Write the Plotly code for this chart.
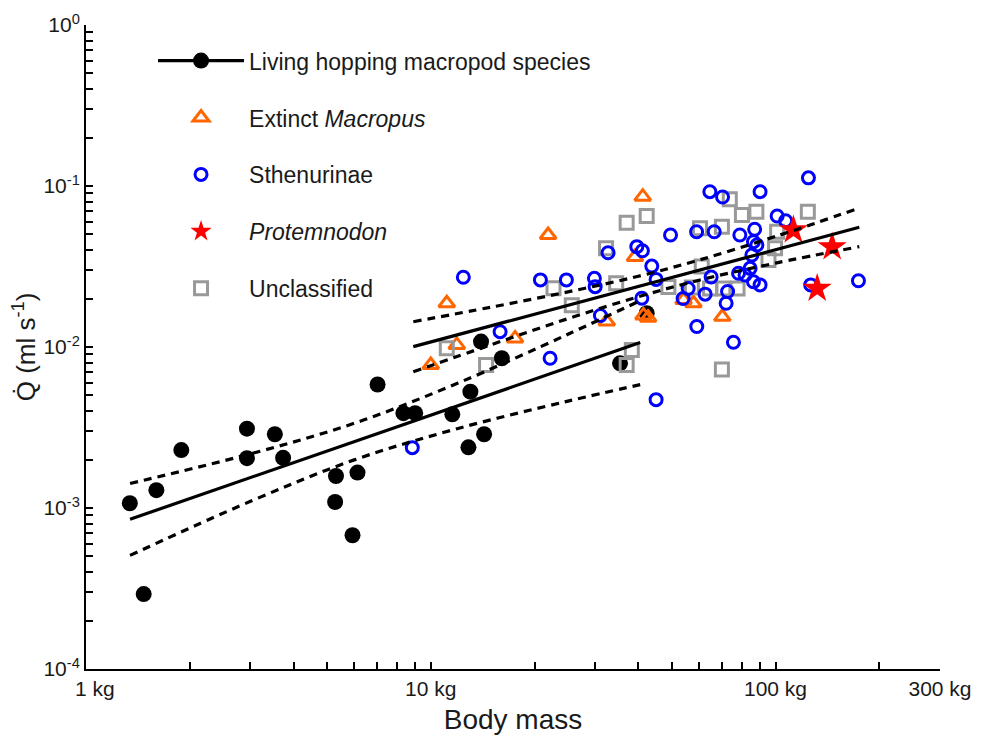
import plotly.graph_objects as go

# ---------------- data ----------------
# Living hopping macropod species
living_mass = [1.34, 1.60, 1.89, 1.47, 2.93, 2.93, 3.53, 3.73, 5.31, 5.28, 6.13, 5.93,
               7.01, 8.33, 9.01, 11.55, 13.03, 14.28, 12.86, 13.99, 16.07, 35.4, 42.3]
living_q = [1.07e-3, 1.29e-3, 2.29e-3, 2.92e-4, 3.11e-3, 2.04e-3, 2.87e-3, 2.05e-3,
            1.58e-3, 1.09e-3, 1.66e-3, 6.77e-4, 5.85e-3, 3.88e-3, 3.88e-3, 3.82e-3,
            5.28e-3, 2.87e-3, 2.38e-3, 1.08e-2, 8.51e-3, 7.92e-3, 1.62e-2]

# Extinct Macropus
macropus_mass = [21.9, 41.2, 11.13, 11.9, 17.56, 10.0, 39.1, 32.4, 41.4, 42.7, 54.1, 57.8, 70.1]
macropus_q = [4.96e-2, 8.58e-2, 1.87e-2, 1.03e-2, 1.13e-2, 7.73e-3, 3.62e-2, 1.44e-2,
              1.57e-2, 1.52e-2, 1.96e-2, 1.87e-2, 1.54e-2]

# Sthenurinae
sthen_mass = [12.43, 15.89, 22.19, 8.84, 20.8, 24.74, 29.83, 29.98, 32.68, 39.6,
              41.1, 43.76, 45.04, 40.95, 31.05, 49.6, 53.95, 59.03, 59.11, 45.04,
              64.5, 70.2, 90.2, 124.6, 66.4, 78.8, 87.0, 101.1, 107.0, 86.3,
              88.3, 85.4, 84.4, 81.6, 78.1, 65.05, 62.5, 71.9, 72.6, 75.5,
              86.3, 90.2, 126.5, 174.0, 55.8]
sthen_q = [2.71e-2, 1.245e-2, 8.51e-3, 2.37e-3, 2.61e-2, 2.61e-2, 2.67e-2, 2.37e-2, 3.85e-2, 4.20e-2,
           3.96e-2, 3.18e-2, 2.63e-2, 2.01e-2, 1.57e-2, 4.96e-2, 2.00e-2, 5.20e-2, 1.34e-2, 4.71e-3,
           9.22e-2, 8.54e-2, 9.22e-2, 0.1124, 5.20e-2, 4.96e-2, 5.39e-2, 6.51e-2, 6.08e-2, 4.51e-2,
           4.30e-2, 3.73e-2, 3.08e-2, 2.80e-2, 2.87e-2, 2.72e-2, 2.13e-2, 1.87e-2, 2.21e-2, 1.07e-2,
           2.54e-2, 2.43e-2, 2.43e-2, 2.58e-2, 2.31e-2]

# Protemnodon
protem_mass = [112.7, 146.0, 132.1]
protem_q = [5.33e-2, 4.18e-2, 2.31e-2]

# Unclassified
unc_mass = [22.7, 25.65, 32.25, 37.0, 42.3, 34.5, 48.9, 57.2, 60.4, 73.7, 79.9, 88.0, 124.1,
            69.9, 101.1, 99.7, 95.4, 61.1, 64.6, 70.6, 77.6, 11.13, 14.47, 38.3, 37.0, 69.9]
unc_q = [2.32e-2, 1.82e-2, 4.10e-2, 5.92e-2, 6.51e-2, 2.49e-2, 2.36e-2, 2.34e-2, 5.46e-2,
         8.27e-2, 6.61e-2, 6.92e-2, 6.92e-2, 5.59e-2, 5.20e-2, 4.10e-2, 3.47e-2, 3.16e-2,
         2.31e-2, 2.31e-2, 2.31e-2, 9.82e-3, 7.73e-3, 9.58e-3, 7.73e-3, 7.25e-3]

# Regression lines and confidence bands
living_fit_mass = [1.342, 40.5]
living_fit_q = [8.51e-4, 1.065e-2]
living_ci_mass = [1.342, 3, 6, 12, 25, 40.5]
living_ci_upper = [1.42e-3, 2.17e-3, 3.36e-3, 5.97e-3, 1.20e-2, 1.94e-2]
living_ci_lower = [5.08e-4, 1.10e-3, 1.99e-3, 3.12e-3, 4.61e-3, 5.84e-3]

fossil_fit_mass = [8.9, 175]
fossil_fit_q = [1.005e-2, 5.54e-2]
fossil_ci_mass = [8.9, 15, 25, 40, 60, 100, 175]
fossil_ci_upper = [1.436e-2, 1.77e-2, 2.20e-2, 2.75e-2, 3.47e-2, 4.86e-2, 7.30e-2]
fossil_ci_lower = [7.02e-3, 1.035e-2, 1.50e-2, 2.05e-2, 2.60e-2, 3.32e-2, 4.20e-2]

# Axis ticks
x_tickvals = [1, 10, 100, 300]
x_ticktext = ["\u00a0\u00a0\u00a01 kg", "10 kg", "100 kg", "300 kg"]
x_minor = [2, 3, 4, 5, 6, 7, 8, 9, 20, 30, 40, 50, 60, 70, 80, 90, 200]
y_tickvals = [1e-4, 1e-3, 1e-2, 1e-1, 1]
y_ticktext = ["10<sup>-4</sup>", "10<sup>-3</sup>", "10<sup>-2</sup>", "10<sup>-1</sup>", "10<sup>0</sup>"]
y_minor = [m * d for d in [1e-4, 1e-3, 1e-2, 1e-1] for m in range(2, 10)]

# ---------------- styles ----------------
FONT = "Liberation Sans, Arial, sans-serif"
TXT = "#1a1a1a"
ORANGE = "#FF6600"
BLUE = "#0000FF"
RED = "#FF0000"
GRAY = "#999999"
BLACK = "#000000"
LW = 3.2
DASH = "8px,6px"

fig = go.Figure()

# data markers
fig.add_trace(go.Scatter(x=living_mass, y=living_q, mode="markers", showlegend=False,
                         marker=dict(symbol="circle", size=16, color=BLACK, line=dict(width=0))))
fig.add_trace(go.Scatter(x=macropus_mass, y=macropus_q, mode="markers", showlegend=False,
                         marker=dict(symbol="triangle-up-open", size=14, color=ORANGE,
                                     line=dict(width=3, color=ORANGE))))
fig.add_trace(go.Scatter(x=unc_mass, y=unc_q, mode="markers", showlegend=False,
                         marker=dict(symbol="square-open", size=13, color=GRAY,
                                     line=dict(width=3, color=GRAY))))
fig.add_trace(go.Scatter(x=sthen_mass, y=sthen_q, mode="markers", showlegend=False,
                         marker=dict(symbol="circle-open", size=12, color=BLUE,
                                     line=dict(width=3, color=BLUE))))
fig.add_trace(go.Scatter(x=protem_mass, y=protem_q, mode="markers", showlegend=False,
                         marker=dict(symbol="star", size=22, color=RED, line=dict(width=0))))

# regression lines
for xs, ys, dash in [
    (living_fit_mass, living_fit_q, "solid"),
    (living_ci_mass, living_ci_upper, DASH),
    (living_ci_mass, living_ci_lower, DASH),
    (fossil_fit_mass, fossil_fit_q, "solid"),
    (fossil_ci_mass, fossil_ci_upper, DASH),
    (fossil_ci_mass, fossil_ci_lower, DASH),
]:
    fig.add_trace(go.Scatter(x=xs, y=ys, mode="lines", showlegend=False, hoverinfo="skip",
                             line=dict(color=BLACK, width=LW, dash=dash, shape="spline")))

# legend entries
legend_items = [
    ("Living hopping macropod species", dict(symbol="circle", size=16, color=BLACK), "lines+markers"),
    ("Extinct <i>Macropus</i>", dict(symbol="triangle-up-open", size=14, color=ORANGE,
                                       line=dict(width=3, color=ORANGE)), "markers"),
    ("Sthenurinae", dict(symbol="circle-open", size=12, color=BLUE, line=dict(width=3, color=BLUE)), "markers"),
    ("<i>Protemnodon</i>", dict(symbol="star", size=22, color=RED), "markers"),
    ("Unclassified", dict(symbol="square-open", size=13, color=GRAY, line=dict(width=3, color=GRAY)), "markers"),
]
for i, (name, mk, mode) in enumerate(legend_items):
    fig.add_trace(go.Scatter(x=[None], y=[None], mode=mode, name=name, legendgroup=f"g{i}",
                             marker=mk, line=dict(color=BLACK, width=LW)))

axis_common = dict(
    showline=True, linecolor=BLACK, linewidth=2, mirror=False,
    ticks="inside", ticklen=7, tickwidth=2, tickcolor=BLACK,
    showgrid=False, zeroline=False, automargin=False,
)

fig.update_xaxes(
    type="log", range=[0, 2.4771], tickmode="array", tickvals=x_tickvals, ticktext=x_ticktext,
    tickfont=dict(size=21, color=TXT, family=FONT),
    minor=dict(tickmode="array", tickvals=x_minor, ticks="inside", ticklen=7, tickwidth=2,
               tickcolor=BLACK, showgrid=False),
    title=dict(text="Body mass\u00a0\u00a0", font=dict(size=28, color=TXT, family=FONT), standoff=10),
    **axis_common,
)
fig.update_yaxes(
    type="log", range=[-4, 0], tickmode="array", tickvals=y_tickvals, ticktext=y_ticktext,
    tickfont=dict(size=21, color=TXT, family=FONT),
    minor=dict(tickmode="array", tickvals=y_minor, ticks="inside", ticklen=7, tickwidth=2,
               tickcolor=BLACK, showgrid=False),
    title=dict(text="Q\u0307 (ml s<sup>-1</sup>)", font=dict(size=26, color=TXT, family=FONT),
               standoff=15),
    **axis_common,
)

# the page body adds an 8 px offset, so the figure is 8 px smaller and margins compensate
fig.update_layout(
    width=974, height=731,
    margin=dict(l=78, r=42, t=17, b=70, autoexpand=False),
    plot_bgcolor="white", paper_bgcolor="white",
    font=dict(family=FONT, color=TXT),
    legend=dict(x=0.0785, y=0.978, xanchor="left", yanchor="top",
                bgcolor="rgba(0,0,0,0)", borderwidth=0,
                font=dict(size=23, color=TXT, family=FONT),
                itemwidth=86, tracegroupgap=24, traceorder="grouped"),
)

fig.write_html("out.html")
